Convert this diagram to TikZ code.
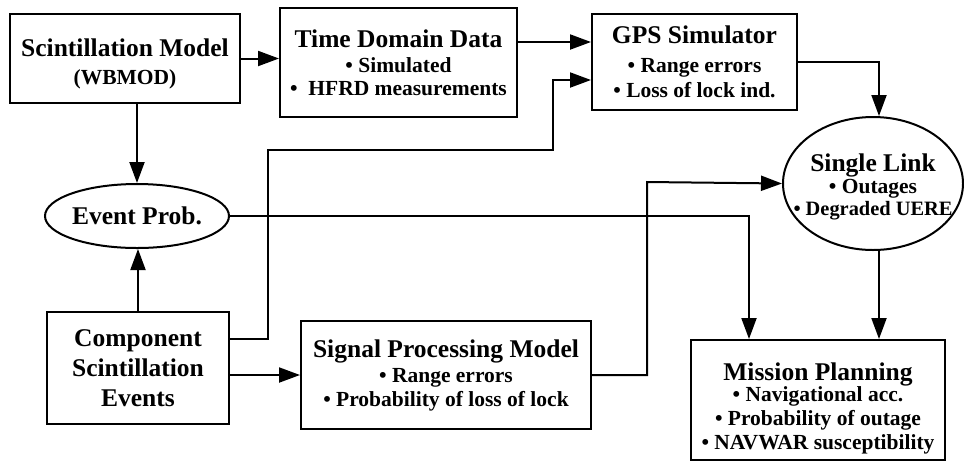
\documentclass[tikz,border=0pt]{standalone}
\usepackage{fontspec}
\setmainfont{Liberation Serif}
\usepackage{tikz}
\usetikzlibrary{arrows.meta,positioning,shapes.geometric}
\newcommand{\hdfont}{\fontsize{12.75}{15}\selectfont}
\newcommand{\ptfont}{\fontsize{10.75}{12}\selectfont}

\begin{document}
\begin{tikzpicture}[x=0.5pt, y=-0.5pt,
  font=\bfseries\ptfont,
  box/.style={draw, line width=1pt, align=center, inner sep=2pt},
  oval/.style={draw, ellipse, line width=1pt, align=center, inner sep=0pt},
  arr/.style={-{Triangle[length=10.5pt,width=7.5pt]}, line width=1pt}]

\useasboundingbox (0,0) rectangle (964,462);

\node[box, minimum width=115pt, minimum height=44.5pt] (scm) at (125,58.5)
  {{\hdfont\rule{0pt}{14pt}Scintillation Model}\\[2pt] (WBMOD)};
\node[box, minimum width=118.5pt, minimum height=54.5pt] (tdd) at (398.5,62.5)
  {{\hdfont Time Domain Data}\\[0.5pt] \textbullet\ Simulated\\[-0.5pt]
   \textbullet\ \ HFRD measurements};
\node[box, minimum width=102.5pt, minimum height=48pt] (gps) at (694.5,62)
  {{\hdfont GPS Simulator}\\[2.5pt] \textbullet\ Range errors\\[0.5pt]
   \textbullet\ Loss of lock ind.};
\node[oval, minimum width=92pt, minimum height=32pt] (evp) at (137,216)
  {\hdfont Event Prob.};
\node[oval, inner xsep=-14pt, minimum width=90pt, minimum height=66.5pt] (sl) at (873,183.5)
  {{\hdfont\rule{0pt}{12pt}Single Link}\\[-1pt] \textbullet\ Outages\\[-1pt]
   {\fontsize{10.2}{12}\selectfont\textbullet\ Degraded UERE}};
\node[box, font=\bfseries\hdfont, minimum width=91pt, minimum height=56pt] (cse) at (138,368)
  {Component\\ Scintillation\\ Events};
\node[box, minimum width=145pt, minimum height=54pt] (spm) at (446,375)
  {{\hdfont Signal Processing Model}\\[0.5pt] \textbullet\ Range errors\\
   \textbullet\ Probability of loss of lock};
\node[box, minimum width=127pt, minimum height=60pt] (mp) at (818,400)
  {{\hdfont\rule{0pt}{17pt}Mission Planning}\\[-1.5pt] \textbullet\ Navigational acc.\\
   \textbullet\ Probability of outage\\ \textbullet\ NAVWAR susceptibility};

% bends of the elbow connectors
\coordinate (t1) at ([yshift=10.25pt]tdd.east);
\coordinate (c1) at ([yshift=14.5pt]cse.east);
\coordinate (j1) at (268,150);
\coordinate (j2) at (553,80);
\coordinate (j3) at (647,182);
\coordinate (m1) at ([xshift=-34.5pt]mp.north);
\coordinate (s1) at ([xshift=3pt]sl.north);
\coordinate (s2) at ([xshift=3pt]sl.south);

\draw[arr] (scm.east) -- (scm.east -| tdd.west);
\draw[arr] (t1) -- (t1 -| gps.west);
\draw[arr] (evp.north |- scm.south) -- (evp.north);
\draw[arr] (cse.north) -- (cse.north |- evp.south);
\draw[arr] (c1) -| (j1) -| (j2) -- (j2 -| gps.west);
\draw[arr] (cse.east |- spm.west) -- (spm.west);
\draw[arr] (spm.east) -| (j3) -- (sl.west);
\draw[arr] (evp.east) -| (m1);
\draw[arr] (gps.east) -| (s1);
\draw[arr] (s2) -- (s2 |- mp.north);
\end{tikzpicture}
\end{document}
